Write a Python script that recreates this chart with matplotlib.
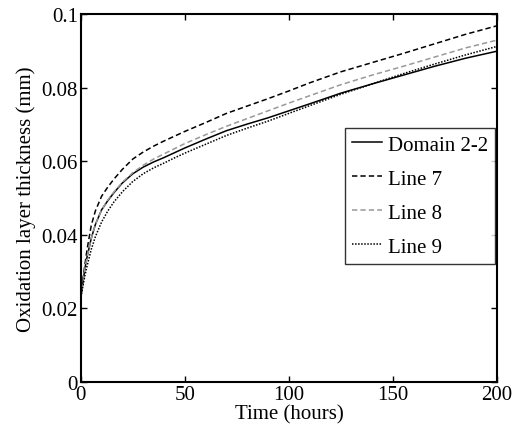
import numpy as np
import matplotlib
matplotlib.use('Agg')
import matplotlib.pyplot as plt

plt.rcParams['font.family'] = ['Liberation Serif', 'DejaVu Serif']

# time points (hours)
t = [0, 1, 2, 3, 5, 7, 10, 13, 16, 20, 25, 30, 35, 40, 45, 50, 60, 70,
     80, 90, 100, 110, 125, 140, 155, 170, 185, 200]

domain_22 = [0.023, 0.027, 0.031, 0.034, 0.039, 0.0428, 0.0468, 0.0493, 0.0515,
             0.0541, 0.0566, 0.0584, 0.0598, 0.0610, 0.0623, 0.0636, 0.0660,
             0.0683, 0.0701, 0.0718, 0.0737, 0.0756, 0.0785, 0.0810, 0.0834,
             0.0858, 0.0880, 0.0899]
line_7 = [0.023, 0.028, 0.032, 0.036, 0.0425, 0.0465, 0.0505, 0.0530, 0.0552,
          0.0578, 0.0606, 0.0625, 0.0641, 0.0655, 0.0668, 0.0681, 0.0705,
          0.0730, 0.0750, 0.0770, 0.0791, 0.0813, 0.0843, 0.0868, 0.0893,
          0.0919, 0.0945, 0.0968]
line_8 = [0.023, 0.027, 0.031, 0.034, 0.039, 0.0428, 0.0468, 0.0495, 0.0517,
          0.0543, 0.0569, 0.0589, 0.0606, 0.0620, 0.0634, 0.0648, 0.0672,
          0.0695, 0.0716, 0.0737, 0.0758, 0.0778, 0.0808, 0.0834, 0.0858,
          0.0883, 0.0908, 0.0929]
line_9 = [0.023, 0.026, 0.029, 0.0315, 0.036, 0.0395, 0.0435, 0.0465, 0.0490,
          0.0517, 0.0545, 0.0566, 0.0582, 0.0595, 0.0609, 0.0622, 0.0646,
          0.0670, 0.0690, 0.0709, 0.0730, 0.0751, 0.0782, 0.0810, 0.0838,
          0.0864, 0.0889, 0.0912]

xticks = [0, 50, 100, 150, 200]
yticks = [0, 0.02, 0.04, 0.06, 0.08, 0.1]
ytick_labels = ['0', '0.02', '0.04', '0.06', '0.08', '0.1']

fig = plt.figure(figsize=(5.18, 4.35), dpi=100)
ax = fig.add_axes([0.156, 0.1195, 0.8035, 0.846])

ax.plot(t, domain_22, color='black', linestyle='-', linewidth=1.1, label='Domain 2-2')
ax.plot(t, line_7, color='black', linestyle=(0, (3.5, 2)), linewidth=1.1, label='Line 7')
ax.plot(t, line_8, color='#999999', linestyle=(0, (3.5, 2)), linewidth=1.1, label='Line 8')
ax.plot(t, line_9, color='black', linestyle=(0, (1, 1)), linewidth=1.1, label='Line 9')

ax.set_xlim(0, 200)
ax.set_ylim(0, 0.1)
ax.set_xticks(xticks)
ax.set_yticks(yticks)
ax.set_yticklabels(ytick_labels)
ax.tick_params(direction='in', top=True, right=True, labelsize=15, length=4, width=1, pad=2)
for s in ax.spines.values():
    s.set_linewidth(1.5)

ax.set_xlabel('Time (hours)', fontsize=15, labelpad=0)
ax.set_ylabel('Oxidation layer thickness (mm)', fontsize=15, labelpad=4)

leg = ax.legend(loc='upper left', bbox_to_anchor=(0.635, 0.69), fontsize=15, frameon=True,
                fancybox=False, handlelength=1.45, handletextpad=0.25, borderpad=0.34,
                labelspacing=0.69, borderaxespad=0)
leg.get_frame().set_edgecolor('black')
leg.get_frame().set_linewidth(1.0)

fig.savefig('out.png', dpi=100)
